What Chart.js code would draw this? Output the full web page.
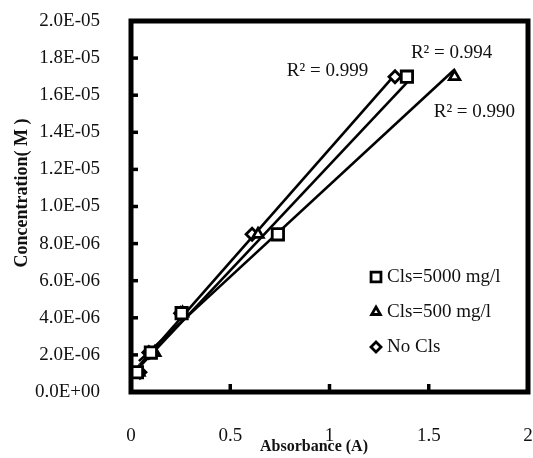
<!DOCTYPE html>
<html>
<head>
<meta charset="utf-8">
<script src="https://cdn.jsdelivr.net/npm/chart.js@4.4.1/dist/chart.umd.min.js"></script>
<style>
body{margin:0;background:#fff}
canvas{display:block}
</style>
</head>
<body>
<canvas id="calib" width="533" height="458"></canvas>
<script>
// concentration (M) of the standards, same for every series
const conc = [1.0625e-6, 2.125e-6, 4.25e-6, 8.5e-6, 1.7e-5]
// absorbance read for each standard
const absCls5000 = [0.03, 0.10, 0.255, 0.74, 1.39]
const absCls500 = [0.04, 0.12, 0.26, 0.64, 1.63]
const absNoCls = [0.045, 0.09, 0.25, 0.61, 1.33]

const seriesNames = ["Cls=5000 mg/l", "Cls=500 mg/l", "No Cls"]
const r2Labels = ["R\u00b2 = 0.994", "R\u00b2 = 0.990", "R\u00b2 = 0.999"]
const xTicks = [0, 0.5, 1, 1.5, 2]

const serif = '"Liberation Serif", "Times New Roman", serif'
Chart.defaults.font.family = serif
Chart.defaults.color = '#111'

function points(xs, ys){
    return xs.map((v, i) => ({x: v, y: ys[i]}))
}

// linear trendline over the range of the series
function trend(xs, ys){
    const n = xs.length
    const mx = xs.reduce((a, b) => a + b, 0) / n
    const my = ys.reduce((a, b) => a + b, 0) / n
    let sxy = 0, sxx = 0
    for(let i = 0; i < n; i++){
        sxy += (xs[i] - mx) * (ys[i] - my)
        sxx += (xs[i] - mx) * (xs[i] - mx)
    }
    const k = sxy / sxx
    const b = my - k * mx
    const lo = Math.min(...xs), hi = Math.max(...xs)
    return [{x: lo, y: k * lo + b}, {x: hi, y: k * hi + b}]
}

function sci(v){
    const [m, e] = Number(v).toExponential(1).split('e')
    const sign = e[0] === '-' ? '-' : '+'
    return m + 'E' + sign + e.replace(/[+-]/, '').padStart(2, '0')
}

function marker(label, data, style, r){
    return {
        label: label,
        data: data,
        showLine: false,
        pointStyle: style,
        pointRadius: r,
        pointHoverRadius: r,
        pointBorderWidth: 2.8,
        pointBorderColor: '#000',
        pointBackgroundColor: '#fff',
        order: 0
    }
}

function trendLine(data){
    return {
        type: 'line',
        label: '',
        data: data,
        borderColor: '#000',
        borderWidth: 2.6,
        pointRadius: 0,
        fill: false,
        order: 1
    }
}

const frame = {
    id: 'frame',
    afterDraw(chart){
        const {ctx, chartArea: a, scales: {x, y}} = chart
        ctx.save()
        ctx.strokeStyle = '#000'
        ctx.lineWidth = 5
        ctx.strokeRect(a.left, a.top, a.right - a.left, a.bottom - a.top)

        // small ticks pointing inward
        ctx.lineWidth = 3.5
        y.ticks.forEach(t => {
            if(t.value <= 0 || t.value >= y.max) return
            const py = y.getPixelForValue(t.value)
            ctx.beginPath()
            ctx.moveTo(a.left, py)
            ctx.lineTo(a.left + 7, py)
            ctx.stroke()
        })
        x.ticks.forEach(t => {
            if(t.value <= 0 || t.value >= x.max) return
            const px = x.getPixelForValue(t.value)
            ctx.beginPath()
            ctx.moveTo(px, a.bottom)
            ctx.lineTo(px, a.bottom - 8)
            ctx.stroke()
        })

        // R² notes next to the fitted lines
        ctx.fillStyle = '#111'
        ctx.font = '19px ' + serif
        ctx.textAlign = 'left'
        ctx.textBaseline = 'middle'
        ctx.fillText(r2Labels[0], x.getPixelForValue(1.41), y.getPixelForValue(1.83e-5))
        ctx.fillText(r2Labels[1], x.getPixelForValue(1.525), y.getPixelForValue(1.51e-5))
        ctx.fillText(r2Labels[2], x.getPixelForValue(0.785), y.getPixelForValue(1.73e-5))

        // legend inside the plot
        chart.data.datasets.filter(d => d.type !== 'line').forEach((d, i) => {
            const ly = a.top + 256 + i * 35
            const lx = a.right - 152
            ctx.fillStyle = '#fff'
            ctx.strokeStyle = '#000'
            ctx.lineWidth = 2.8
            Chart.helpers.drawPoint(ctx, {pointStyle: d.pointStyle, radius: d.pointRadius - 1, rotation: 0, borderWidth: 2.8}, lx, ly)
            ctx.fillStyle = '#111'
            ctx.fillText(d.label, lx + 11, ly)
        })

        // axis titles
        ctx.font = 'bold 16px ' + serif
        ctx.textAlign = 'center'
        ctx.fillText('Absorbance (A)', 314, 447)
        ctx.translate(22, 193)
        ctx.rotate(-Math.PI / 2)
        ctx.font = 'bold 18px ' + serif
        ctx.fillText('Concentration( M )', 0, 0)
        ctx.restore()
    }
}

new Chart(document.getElementById('calib'), {
    type: 'scatter',
    data: {
        datasets: [
            marker(seriesNames[0], points(absCls5000, conc), 'rect', 8),
            marker(seriesNames[1], points(absCls500, conc), 'triangle', 6),
            marker(seriesNames[2], points(absNoCls, conc), 'rectRot', 6),
            trendLine(trend(absCls5000, conc)),
            trendLine(trend(absCls500, conc)),
            trendLine(trend(absNoCls, conc))
        ]
    },
    options: {
        responsive: false,
        animation: false,
        layout: {
            autoPadding: false,
            padding: {top: 21, right: 5, left: 0, bottom: 0}
        },
        plugins: {
            legend: {display: false},
            tooltip: {enabled: false}
        },
        scales: {
            x: {
                type: 'linear',
                min: 0,
                max: 2,
                afterBuildTicks: s => { s.ticks = xTicks.map(v => ({value: v})) },
                grid: {display: false},
                border: {display: false},
                ticks: {
                    padding: 25,
                    font: {size: 19},
                    callback: v => String(v)
                },
                // tick padding would otherwise be added to the side margins
                afterFit: s => { s.height = 66; s.paddingLeft = 0; s.paddingRight = 4 }
            },
            y: {
                type: 'linear',
                min: 0,
                max: 2e-5,
                grid: {display: false},
                border: {display: false},
                ticks: {
                    stepSize: 2e-6,
                    padding: 23,
                    font: {size: 19},
                    callback: v => sci(v)
                },
                afterFit: s => { s.width = 131; s.paddingTop = 10; s.paddingBottom = 10 }
            }
        }
    },
    plugins: [frame]
})
</script>
</body>
</html>
